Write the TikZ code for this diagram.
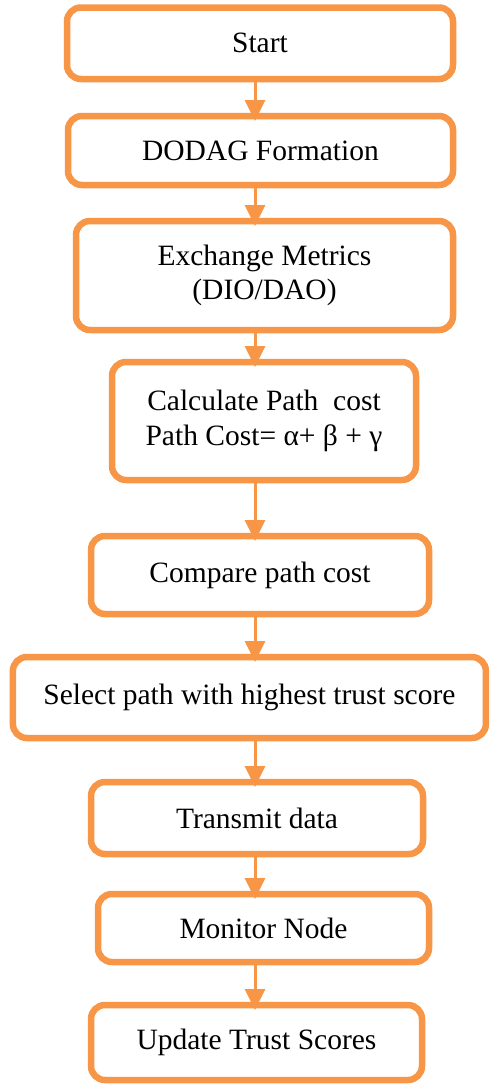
\documentclass[tikz,border=0pt]{standalone}
\usepackage{fontspec}
\setmainfont{Liberation Serif}
\usetikzlibrary{arrows.meta}
\definecolor{flowor}{HTML}{F79646}

\tikzset{
  stepbox/.style={draw=flowor, line width=6.5pt, rounded corners=14pt,
    fill=white, inner sep=0pt, outer sep=0pt, align=center,
    font=\fontsize{29.5}{34.5}\selectfont},
  flowarrow/.style={draw=flowor, line width=3pt,
    -{Triangle[width=20pt,length=21pt]}}
}

\begin{document}
\begin{tikzpicture}[x=1pt,y=-1pt]
  \useasboundingbox (0,0) rectangle (490,1084);
  \fill[white] (0,0) rectangle (490,1084);

  % vertical axis the connectors run along
  \coordinate (axis) at (255,0);

  \node[stepbox, minimum width=386pt, minimum height=71.5pt] (start) at (260,43.25) {Start};
  \node[stepbox, minimum width=385pt, minimum height=69pt]   (dodag) at (260.5,150.5) {DODAG Formation};
  \node[stepbox, minimum width=377pt, minimum height=109pt]  (exch)  at (264.5,275.5) {Exchange Metrics\\(DIO/DAO)};
  \node[stepbox, minimum width=304pt, minimum height=118pt]  (calc)  at (264,421) {Calculate Path~ cost\\Path Cost= α+ β + γ};
  \node[stepbox, minimum width=338pt, minimum height=78pt]   (comp)  at (260,575) {Compare path cost};
  \node[stepbox, minimum width=473pt, minimum height=81pt]   (sel)   at (249.4,697.5) {Select path with highest trust score};
  \node[stepbox, minimum width=332pt, minimum height=72pt]   (trans) at (257,818) {Transmit data};
  \node[stepbox, minimum width=331pt, minimum height=68pt]   (mon)   at (263.5,928) {Monitor Node};
  \node[stepbox, minimum width=331pt, minimum height=75pt]   (upd)   at (256.5,1042.5) {Update Trust Scores};

  \foreach \a/\b in {start/dodag, dodag/exch, exch/calc, calc/comp,
                     comp/sel, sel/trans, trans/mon, mon/upd}
    \draw[flowarrow] (\a.south -| axis) -- ([yshift=-5pt]\b.north -| axis);
\end{tikzpicture}
\end{document}
